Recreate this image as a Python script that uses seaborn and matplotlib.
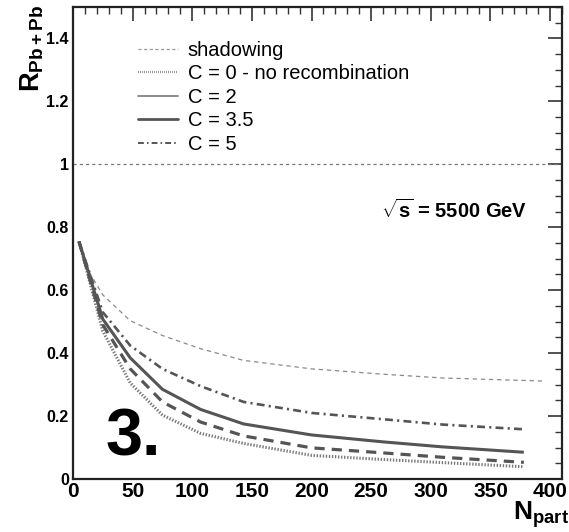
import matplotlib
matplotlib.use("Agg")
import matplotlib.pyplot as plt
import seaborn as sns
import numpy as np
from matplotlib.lines import Line2D
from matplotlib.ticker import MultipleLocator

# ---------------- data ----------------
npart = [5, 25, 48, 75, 107, 143, 200, 260, 310, 378]
npart_shadow = [5, 14, 25, 48, 75, 107, 143, 200, 260, 310, 396]
r_shadow = [0.755, 0.655, 0.585, 0.503, 0.456, 0.414, 0.377, 0.350, 0.333, 0.321, 0.311]
r_c0 = [0.755, 0.470, 0.305, 0.203, 0.145, 0.113, 0.075, 0.062, 0.052, 0.039]
r_c2 = [0.755, 0.490, 0.350, 0.245, 0.181, 0.137, 0.099, 0.083, 0.069, 0.053]
r_c35 = [0.755, 0.508, 0.385, 0.285, 0.221, 0.175, 0.140, 0.118, 0.102, 0.085]
r_c5 = [0.755, 0.530, 0.424, 0.350, 0.295, 0.245, 0.210, 0.190, 0.173, 0.158]
legend_labels = ["shadowing", "C = 0 - no recombination", "C = 2", "C = 3.5", "C = 5"]
x_ticks = [0, 50, 100, 150, 200, 250, 300, 350, 400]
y_ticks = [0, 0.2, 0.4, 0.6, 0.8, 1, 1.2, 1.4]
y_tick_labels = ["0", "0.2", "0.4", "0.6", "0.8", "1", "1.2", "1.4"]

sns.set_theme(style="white")
plt.rcParams['font.family'] = ['Liberation Sans', 'DejaVu Sans']
plt.rcParams['mathtext.fontset'] = 'custom'
plt.rcParams['mathtext.rm'] = 'Liberation Sans'
plt.rcParams['mathtext.bf'] = 'Liberation Sans:bold'
plt.rcParams['mathtext.it'] = 'Liberation Sans:italic'
plt.rcParams['text.color'] = 'black'
plt.rcParams['axes.labelcolor'] = 'black'

fig = plt.figure(figsize=(5.69, 5.32), dpi=100)
ax = fig.add_axes([73/569, 1-479/532, (562-73)/569, (479-7)/532])

styles = dict(
    shadow=dict(color="#8a8a8a", lw=0.9, dashes=(3.5, 3.0)),
    c0=dict(color="#777777", lw=2.2, dashes=(0.45, 0.55)),
    c2=dict(color="#555555", lw=2.3, dashes=(3.2, 2.2)),
    c35=dict(color="#555555", lw=2.2),
    c5=dict(color="#555555", lw=1.9, dashes=(3.0, 1.6, 0.8, 1.6)),
)

ax.axhline(1.0, color="#777777", lw=0.9, dashes=(2.5, 2.5))

def draw(x, y, st):
    sns.lineplot(x=x, y=y, ax=ax, legend=False, color=st["color"], linewidth=st["lw"])
    line = ax.lines[-1]
    if "dashes" in st:
        line.set_dashes(st["dashes"])
    line.set_solid_capstyle("butt")
    line.set_dash_capstyle("butt")

draw(npart_shadow, r_shadow, styles["shadow"])
draw(npart, r_c0, styles["c0"])
draw(npart, r_c2, styles["c2"])
draw(npart, r_c5, styles["c5"])
draw(npart, r_c35, styles["c35"])

ax.set_xlim(0, 410)
ax.set_ylim(0, 1.5)

# legend handles (as drawn in the reference legend)
handles = [
    Line2D([], [], color="#9a9a9a", lw=0.9, dashes=(2.5, 2.0)),
    Line2D([], [], color="#8a8a8a", lw=1.6, dashes=(0.4, 0.5)),
    Line2D([], [], color="#777777", lw=1.2),
    Line2D([], [], color="#555555", lw=2.0),
    Line2D([], [], color="#555555", lw=1.4, dashes=(3.0, 1.6, 0.8, 1.6)),
]
leg = ax.legend(handles, legend_labels, loc="upper left", bbox_to_anchor=(0.121, 0.941),
                frameon=False, fontsize=14.5, handlelength=2.0, handletextpad=0.45,
                labelspacing=0.22, borderaxespad=0, borderpad=0.3)

# ticks ROOT style
ax.set_xticks(x_ticks)
ax.set_xticklabels([str(v) for v in x_ticks], fontsize=15, fontweight="bold")
ax.set_yticks(y_ticks)
ax.set_yticklabels(y_tick_labels, fontsize=11.5, fontweight="bold")
ax.xaxis.set_minor_locator(MultipleLocator(10))
ax.yaxis.set_minor_locator(MultipleLocator(0.05))
ax.tick_params(which="both", direction="in", top=True, right=True, colors="#333333",
               labelcolor="black")
ax.tick_params(which="major", length=10, width=1.2)
ax.tick_params(which="minor", length=5, width=1.0)
ax.tick_params(axis="x", which="major", pad=2)
ax.tick_params(axis="y", which="major", pad=3)
for s in ax.spines.values():
    s.set_linewidth(1.6)
    s.set_color("#222222")

ax.set_ylabel(r"$\mathbf{R_{Pb+Pb}}$", fontsize=19.5, rotation=90)
ax.yaxis.set_label_coords(-0.056, 0.912)
ax.set_xlabel(r"$\mathbf{N_{part}}$", fontsize=19)
ax.xaxis.set_label_coords(0.957, -0.043)

ax.text(258, 0.854, r"$\sqrt{\mathbf{s}}$ = 5500 GeV", fontsize=14.5, fontweight="bold",
        ha="left", va="center")
ax.text(27, 0.076, "3.", fontsize=48, fontweight="bold", ha="left", va="baseline")

fig.savefig("out.png", dpi=100)
